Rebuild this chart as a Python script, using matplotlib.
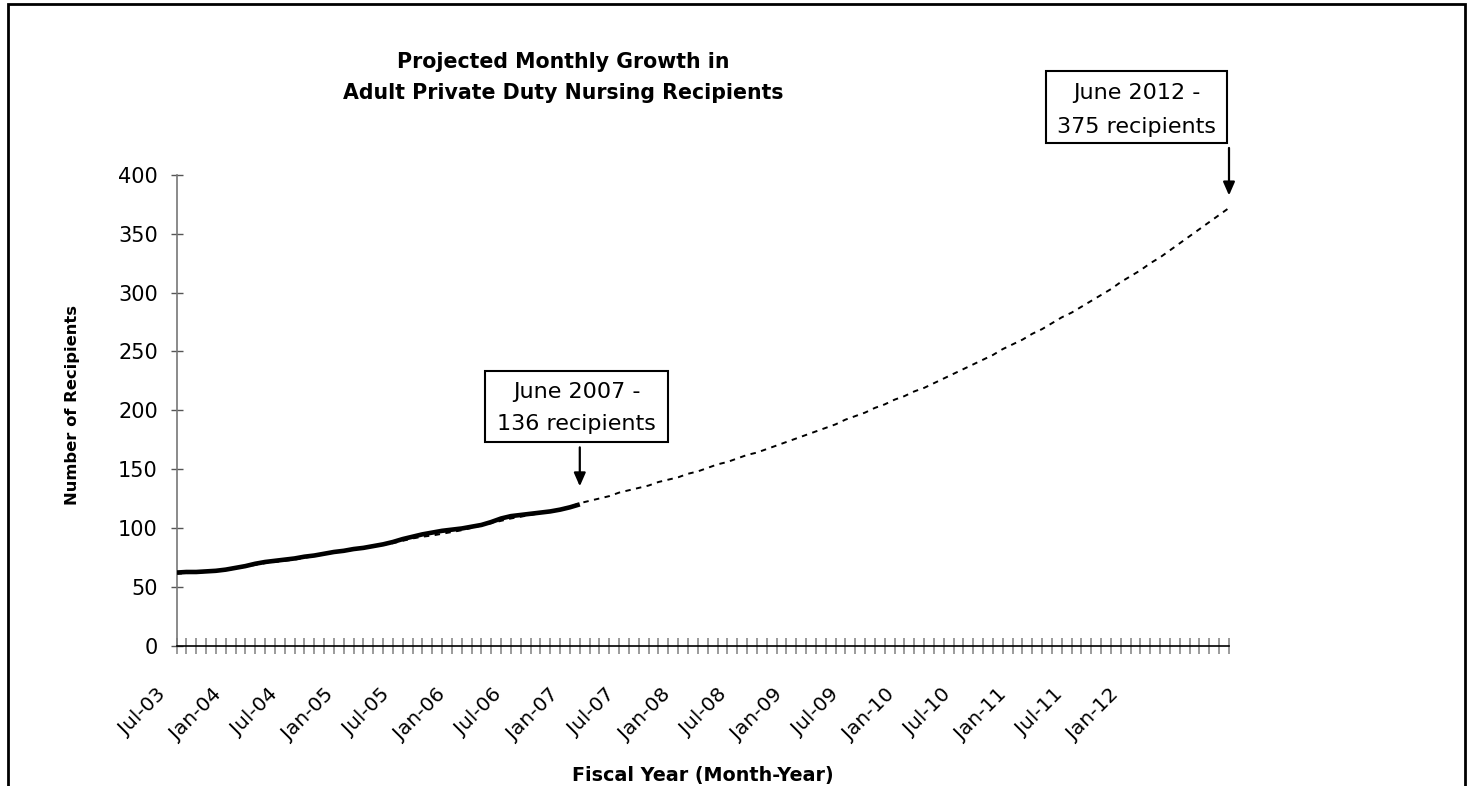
import numpy as np
import matplotlib
matplotlib.use("Agg")
import matplotlib.pyplot as plt
from matplotlib.patches import Rectangle
import matplotlib.transforms as mtransforms

# ---------------- data ----------------
tick_labels = ["Jul-03", "Jan-04", "Jul-04", "Jan-05", "Jul-05", "Jan-06",
               "Jul-06", "Jan-07", "Jul-07", "Jan-08", "Jul-08", "Jan-09",
               "Jul-09", "Jan-10", "Jul-10", "Jan-11", "Jul-11", "Jan-12"]

# actual monthly recipients, Jul-03 onwards
actual = [62, 62.5, 62.5, 63, 63.5, 64.5, 66, 67.5, 69.5, 71,
          72, 73, 74, 75.5, 76.5, 78, 79.5, 80.5, 82, 83,
          84.5, 86, 88, 90.5, 92.5, 94.5, 96, 97.5, 98.5, 99.5,
          101, 102.5, 105, 108, 110, 111, 112, 113, 114, 115.5,
          117.5, 120]

# projected monthly recipients, Jul-03 .. Jun-12
projected = [61, 61.5, 62, 62.5, 63, 64, 65.5, 67, 68.5, 70,
             71, 72, 73, 74.5, 76, 77.5, 79, 80, 81.5, 82.5,
             84, 85.5, 87, 89, 91, 92.5, 93.5, 95, 96.5, 98,
             100, 102, 104, 106, 108, 109.5, 111, 112.5, 114, 116,
             118, 121,
             123, 125, 127, 130, 132, 134, 136, 139, 141, 143,
             146, 148, 151, 154, 156, 159, 162, 164, 167, 170,
             173, 176, 179, 182, 185, 188, 192, 195, 198, 202,
             205, 209, 212, 216, 219, 223, 227, 231, 235, 239,
             243, 247, 252, 256, 260, 265, 269, 274, 279, 283,
             288, 293, 298, 303, 309, 314, 319, 325, 330, 336,
             342, 348, 354, 360, 366, 372]

annot1 = ["June 2007 -", "136 recipients"]
annot2 = ["June 2012 -", "375 recipients"]

# ---------------- figure ----------------
W, H = 1473, 786
fig = plt.figure(figsize=(W / 100, H / 100), dpi=100)
plt.rcParams["font.family"] = ["DejaVu Sans"]


def fx(px):
    return px / W


def fy(py):
    return 1 - py / H


ax = fig.add_axes([fx(176.5), fy(645.5), fx(1229) - fx(176.5), fy(175) - fy(645.5)])

x_act = np.arange(len(actual))
x_proj = np.arange(len(projected))

ax.plot(x_proj, projected, color="black", lw=1.4, ls=(0, (2.8, 2.8)), zorder=2)
ax.plot(x_act, actual, color="black", lw=3.3, solid_capstyle="butt", zorder=3)

ax.set_xlim(0, len(projected) - 1)
ax.set_ylim(0, 400)

# spines
for s in ["top", "right"]:
    ax.spines[s].set_visible(False)
ax.spines["left"].set_color("#777777")
ax.spines["left"].set_linewidth(1.2)
ax.spines["bottom"].set_color("black")
ax.spines["bottom"].set_linewidth(1.2)

# y ticks
ax.set_yticks(np.arange(0, 401, 50))
ax.tick_params(axis="y", direction="inout", length=9, width=1, color="#555555",
               labelsize=15, pad=9)

# x ticks: monthly tick marks, no default labels
ax.set_xticks(x_proj)
ax.set_xticklabels([])
ax.tick_params(axis="x", direction="inout", length=11.5, width=1.1, color="#808080")

# x tick labels (rotated)
trans = mtransforms.blended_transform_factory(ax.transData, ax.transAxes)
for i, lab in enumerate(tick_labels):
    ax.text(-1.4 + i * 5.7, -0.098, lab, transform=trans, rotation=45,
            rotation_mode="anchor", ha="right", va="center", fontsize=14.5)

# titles and axis labels
fig.text(fx(563), fy(62), "Projected Monthly Growth in", ha="center", va="center",
         fontsize=14.8, fontweight="bold")
fig.text(fx(563), fy(93), "Adult Private Duty Nursing Recipients", ha="center",
         va="center", fontsize=14.8, fontweight="bold")
fig.text(fx(73), fy(405), "Number of Recipients", rotation=90, ha="center",
         va="center", fontsize=11.8, fontweight="bold")
fig.text(fx(703), fy(775), "Fiscal Year (Month-Year)", ha="center", va="center",
         fontsize=13.8, fontweight="bold")

# annotation boxes
def box(x0, y0, x1, y1, lines, ly):
    fig.patches.append(Rectangle((fx(x0), fy(y1)), fx(x1) - fx(x0), fy(y0) - fy(y1),
                                 transform=fig.transFigure, fill=False,
                                 edgecolor="black", lw=1.5))
    cx = (x0 + x1) / 2
    for t, yy in zip(lines, ly):
        fig.text(fx(cx), fy(yy), t, ha="center", va="center", fontsize=16)


box(485, 371, 668, 442, annot1, [392, 424])
box(1046, 71, 1227, 143, annot2, [93, 127])

# arrows pointing at series ends
ax.annotate("", xy=(x_act[-1], actual[-1]), xytext=(0, 57), textcoords="offset pixels",
            arrowprops=dict(arrowstyle="-|>,head_length=0.8,head_width=0.35",
                            color="black", lw=1.6, shrinkA=0, shrinkB=13))
ax.annotate("", xy=(x_proj[-1], projected[-1]), xytext=(0, 60), textcoords="offset pixels",
            arrowprops=dict(arrowstyle="-|>,head_length=0.8,head_width=0.35",
                            color="black", lw=1.6, shrinkA=0, shrinkB=9))

# outer border
fig.patches.append(Rectangle((fx(8), fy(800)), fx(1465) - fx(8), fy(4) - fy(800),
                             transform=fig.transFigure, fill=False,
                             edgecolor="black", lw=2, clip_on=False))

fig.savefig("out.png", dpi=100)
